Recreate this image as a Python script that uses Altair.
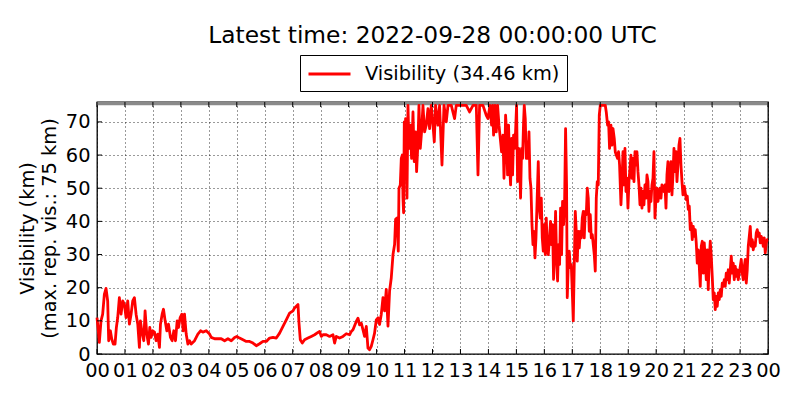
import altair as alt
import pandas as pd

TITLE = "Latest time: 2022-09-28 00:00:00 UTC"
LEGEND_LABEL = "Visibility (34.46 km)"
Y_TITLE = ["Visibility (km)", "(max. rep. vis.: 75 km)"]
FONT = "DejaVu Sans"

# x tick positions (hours) and y tick values
x_ticks = list(range(0, 25))
y_ticks = [0, 10, 20, 30, 40, 50, 60, 70]
cap_band = [75, 76]   # grey band at top (max reported visibility)

# ---- series (hour of day, visibility km) ----
h_night = [0.000, 0.048, 0.084, 0.143, 0.203, 0.263, 0.323, 0.382, 0.418, 0.478,
           0.526, 0.585, 0.645, 0.693, 0.741, 0.800, 0.860, 0.920, 0.980, 1.039,
           1.099, 1.159, 1.219, 1.278, 1.338, 1.398, 1.458, 1.517, 1.553, 1.601,
           1.673, 1.720, 1.780, 1.840, 1.888, 1.935, 1.995, 2.055, 2.115, 2.174,
           2.234, 2.270, 2.330, 2.378, 2.437, 2.497, 2.557, 2.628, 2.688, 2.748,
           2.808, 2.867, 2.915, 2.975, 3.035, 3.082, 3.130, 3.190, 3.250, 3.309,
           3.369, 3.489, 3.608, 3.704, 3.787, 3.907, 4.026, 4.086, 4.205, 4.325,
           4.444, 4.564, 4.683, 4.803, 4.922]
v_night = [11, 7, 3.5, 10, 12, 18, 19.8, 16, 4, 7,
           4.6, 3, 3, 8, 11, 17, 12, 16, 15, 11,
           16, 9, 12, 16, 17, 12, 9, 2, 10, 7,
           4, 13, 6, 3, 8, 5, 7, 6.6, 4, 6,
           2, 9, 12, 13.5, 10, 7, 9, 5, 4, 7,
           4, 10, 8, 11, 12, 7, 12, 6, 3, 4,
           3, 4, 6, 7, 6.6, 7, 6, 5, 4.6, 4.6,
           4.6, 4, 4.6, 4, 5]

h_morning = [5.000, 5.100, 5.222, 5.340, 5.458, 5.579, 5.697, 5.815, 5.937, 6.055,
             6.173, 6.295, 6.413, 6.531, 6.652, 6.770, 6.888, 7.010, 7.067, 7.128,
             7.189, 7.225, 7.271, 7.343, 7.425, 7.546, 7.664, 7.783, 7.904, 7.962,
             8.022, 8.083, 8.201, 8.319, 8.441, 8.498, 8.559, 8.677, 8.798, 8.916,
             9.034, 9.095, 9.156, 9.274, 9.335, 9.392, 9.453, 9.514, 9.571, 9.632,
             9.692, 9.750, 9.810, 9.871, 9.928, 9.989]
v_morning = [5.3, 4.8, 4.3, 3.8, 3.8, 3.3, 2.5, 3.1, 3.8, 3.8,
             4.8, 5.0, 4.8, 6.3, 8.3, 10.3, 12.3, 13.0, 13.9, 14.4,
             14.9, 9.3, 4.3, 3.3, 4.3, 4.8, 5.3, 5.8, 6.5, 6.8,
             5.3, 5.8, 5.8, 5.3, 5.8, 3.3, 5.3, 4.8, 5.3, 6.1,
             5.8, 6.8, 7.3, 9.8, 10.8, 8.8, 9.3, 7.3, 5.3, 8.3,
             1.8, 1.3, 2.3, 4.3, 6.3, 10.3]

h_midday = [10.050, 10.107, 10.168, 10.229, 10.286, 10.347, 10.408, 10.465, 10.526, 10.587,
            10.644, 10.680, 10.730, 10.776, 10.801, 10.848, 10.884, 10.919, 10.944, 10.966,
            10.991, 11.016, 11.037, 11.087, 11.123, 11.159, 11.205, 11.252, 11.302, 11.348,
            11.395, 11.431, 11.481, 11.516, 11.563, 11.609, 11.659, 11.717, 11.777, 11.838,
            11.896, 11.956, 12.017, 12.064, 12.110, 12.196, 12.253, 12.339, 12.411, 12.493,
            12.554, 12.672, 12.790, 12.850, 12.968, 13.208, 13.326, 13.448, 13.566, 13.627,
            13.684, 13.805, 13.923, 13.984]
v_midday = [10.9, 8.9, 12, 17, 13, 19.5, 8.4, 19, 23, 30,
            33, 40.6, 41, 31, 50, 51, 59, 60, 47, 42.6,
            70, 59, 71, 47, 75, 62, 69, 59, 73, 58,
            67, 55, 64, 75, 62, 67, 75, 67, 69, 74,
            68, 75, 69, 64, 75, 69, 75, 57, 75, 70,
            75, 75, 71, 75, 75, 75, 73, 75, 75, 54,
            75, 75, 72, 71]

h_afternoon = [14.056, 14.113, 14.149, 14.185, 14.235, 14.281, 14.328, 14.378, 14.424, 14.471,
               14.521, 14.557, 14.592, 14.614, 14.650, 14.685, 14.721, 14.757, 14.793, 14.828,
               14.864, 14.900, 14.936, 14.971, 15.007, 15.043, 15.079, 15.114, 15.150, 15.186,
               15.222, 15.258, 15.282, 15.318, 15.354, 15.390, 15.425, 15.451, 15.486, 15.522,
               15.558, 15.594, 15.629, 15.665, 15.701, 15.737, 15.783, 15.819, 15.855, 15.890,
               15.926, 15.962, 15.998, 16.034, 16.069, 16.105, 16.141, 16.177, 16.223, 16.259,
               16.295, 16.330, 16.366, 16.402, 16.438, 16.474, 16.509, 16.545, 16.581, 16.617,
               16.652, 16.688, 16.724, 16.760, 16.795, 16.820, 16.856, 16.892, 16.928, 16.964,
               16.999, 17.035, 17.071, 17.107, 17.142, 17.178, 17.214, 17.250, 17.285, 17.321,
               17.357, 17.393, 17.428, 17.464, 17.500, 17.536, 17.572, 17.607, 17.643, 17.679,
               17.715, 17.750, 17.786, 17.822, 17.858, 17.893, 17.929, 17.965, 18.001]
v_afternoon = [75, 69, 75, 66, 75, 67, 75, 69, 65, 61,
               66, 53, 62, 72, 67, 54, 69, 57, 51, 65,
               54, 66, 62, 67, 75, 52, 62, 59, 47, 62,
               59, 70, 75, 71, 59, 64, 59, 67, 53, 50,
               39, 33, 37, 29, 35, 45, 58, 44, 41, 47,
               35, 31, 39, 30, 41, 32, 30, 34, 40, 33,
               39, 22.5, 31, 43, 29, 22, 33, 27, 44, 30,
               46, 39, 45, 68, 51, 17, 27, 31, 26, 27,
               19, 10, 27, 43, 37, 28, 37, 32, 37, 35,
               41, 43, 35, 43, 42, 50, 47, 37, 42, 35,
               36, 33, 30, 25, 47, 52, 51, 72, 75]

h_evening = [18.062, 18.119, 18.180, 18.215, 18.262, 18.298, 18.333, 18.383, 18.419, 18.455,
             18.501, 18.537, 18.573, 18.620, 18.655, 18.691, 18.741, 18.777, 18.813, 18.848,
             18.884, 18.920, 18.956, 18.991, 19.027, 19.063, 19.099, 19.134, 19.170, 19.206,
             19.242, 19.278, 19.313, 19.349, 19.385, 19.421, 19.456, 19.492, 19.528, 19.564,
             19.599, 19.635, 19.671, 19.707, 19.742, 19.778, 19.814, 19.850, 19.886, 19.921,
             19.957, 19.993, 20.029, 20.064, 20.100, 20.136, 20.172, 20.207, 20.243, 20.279,
             20.315, 20.351, 20.386, 20.422, 20.458, 20.494, 20.529, 20.565, 20.601, 20.637,
             20.672, 20.708, 20.744, 20.780, 20.815, 20.851, 20.887, 20.923, 20.959]
v_evening = [75, 75, 75, 73, 69, 70, 62, 69, 63, 68,
             65, 61, 60, 59, 61, 57, 45, 52, 61, 51,
             62, 49, 53, 44, 52, 56, 60, 53, 59, 52,
             61, 57, 61, 55, 51, 45, 50, 44, 49, 45,
             51, 47, 54, 52, 43, 49, 46, 51, 53, 61,
             41, 47, 50, 46, 48, 50, 47, 51, 50, 49,
             51, 44, 54, 58, 49, 52, 58, 48, 54, 62,
             55, 61, 52, 57, 63, 65, 57, 52, 48]

h_night2 = [21.005, 21.041, 21.077, 21.112, 21.148, 21.184, 21.220, 21.255, 21.291, 21.327,
            21.363, 21.398, 21.434, 21.470, 21.506, 21.542, 21.577, 21.613, 21.649, 21.685,
            21.720, 21.756, 21.792, 21.828, 21.863, 21.899, 21.935, 21.971, 22.006, 22.042,
            22.078, 22.114, 22.149, 22.185, 22.221, 22.257, 22.292, 22.328, 22.364, 22.400,
            22.436, 22.471, 22.507, 22.543, 22.579, 22.614, 22.650, 22.686, 22.722, 22.757,
            22.793, 22.829, 22.865, 22.900, 22.936, 22.972, 23.008, 23.044, 23.079, 23.115,
            23.151, 23.187, 23.222, 23.258, 23.294, 23.330, 23.365, 23.401, 23.437, 23.473,
            23.508, 23.544, 23.580, 23.616, 23.651, 23.687, 23.723, 23.759, 23.794, 23.830,
            23.866, 23.902, 23.938, 23.973, 24.000]
v_night2 = [50.6, 48.6, 46.6, 47.6, 43.6, 44.6, 37.5, 39.5, 34.5, 38.5,
            35.5, 37.5, 33.5, 27.4, 31.4, 26.4, 20.4, 32.5, 34, 24.4,
            33.5, 28.5, 22.4, 31.4, 19.4, 28.5, 34, 29.5, 23.4, 16.4,
            18.4, 13.4, 17.4, 14.4, 18.4, 16.4, 19.4, 17.4, 21.4, 20.4,
            22.4, 20.4, 24.4, 22.4, 25.4, 21.4, 25.4, 29.5, 24.4, 27.4,
            22.4, 26.4, 23.4, 25.4, 22.4, 24.4, 26.4, 28.5, 24.4, 22.4,
            26.4, 28.5, 21.4, 25.4, 32.5, 35.5, 38.5, 32.5, 34.5, 31.4,
            33.5, 32.5, 36.5, 37.5, 35.5, 36.5, 33.5, 35.5, 34.5, 32.5,
            35, 30.5, 33.5, 34.5, 34.46]

hours = h_night + h_morning + h_midday + h_afternoon + h_evening + h_night2
vis = v_night + v_morning + v_midday + v_afternoon + v_evening + v_night2
df = pd.DataFrame({"hour": hours, "vis": vis})
df["series"] = LEGEND_LABEL

W, H = 671, 252
TICK = 5

xscale = alt.Scale(domain=[0, 24], nice=False, zero=False)
yscale = alt.Scale(domain=[0, 76], nice=False, zero=True)

x_axis = alt.Axis(
    values=x_ticks,
    labelExpr="(datum.value % 24 < 10 ? '0' : '') + (datum.value % 24)",
    title=None, grid=True, ticks=False, domain=False,
    labelFlush=False, labelOverlap=False, labelPadding=7,
    labelFont=FONT, labelFontSize=19.4, labelColor="black",
    gridColor="black", gridDash=[1, 3], gridWidth=0.8, gridOpacity=1,
)
y_axis = alt.Axis(
    values=y_ticks, title=Y_TITLE, grid=True, ticks=False, domain=False,
    labelPadding=7, titlePadding=6, titleLineHeight=22,
    labelFont=FONT, labelFontSize=19.4, labelColor="black",
    titleFont=FONT, titleFontSize=19.4, titleFontWeight="normal", titleColor="black",
    labelOverlap=False,
    gridColor="black", gridDash=[1, 3], gridWidth=0.8, gridOpacity=1,
)


def X(field):
    return alt.X(field, scale=xscale, axis=x_axis)


def Y(field):
    return alt.Y(field, scale=yscale, axis=y_axis)


band = alt.Chart(pd.DataFrame({"x0": [x_ticks[0]], "x1": [x_ticks[-1]],
                               "y0": [cap_band[0]], "y1": [cap_band[1]]})
                 ).mark_rect(color="#8a8a8a").encode(
    x=X("x0:Q"), x2="x1:Q", y=Y("y0:Q"), y2="y1:Q",
)

line = alt.Chart(df).mark_line(strokeWidth=2.8, strokeJoin="round").encode(
    x=X("hour:Q"),
    y=Y("vis:Q"),
    color=alt.Color(
        "series:N",
        scale=alt.Scale(domain=[LEGEND_LABEL], range=["#ff0000"]),
        legend=alt.Legend(
            title=None, orient="none", legendX=203, legendY=-47,
            symbolType="M-1,0H3", symbolSize=441, symbolStrokeWidth=2.8,
            labelFont=FONT, labelFontSize=19.4, labelColor="black",
            labelOffset=34, labelLimit=400, padding=7,
            strokeColor="black", fillColor="white",
        ),
    ),
)

xt = pd.DataFrame({"t": x_ticks})
yt = pd.DataFrame({"t": y_ticks})
tick_style = dict(color="black", strokeWidth=1)
bottom_ticks = alt.Chart(xt).mark_rule(**tick_style).encode(
    x=X("t:Q"), y=alt.value(H), y2=alt.value(H - TICK))
top_ticks = alt.Chart(xt).mark_rule(**tick_style).encode(
    x=X("t:Q"), y=alt.value(0), y2=alt.value(TICK))
left_ticks = alt.Chart(yt).mark_rule(**tick_style).encode(
    y=Y("t:Q"), x=alt.value(0), x2=alt.value(TICK))
right_ticks = alt.Chart(yt).mark_rule(**tick_style).encode(
    y=Y("t:Q"), x=alt.value(W), x2=alt.value(W - TICK))

chart = alt.layer(band, line, bottom_ticks, top_ticks, left_ticks, right_ticks).properties(
    width=W, height=H,
    background="white",
    title=alt.TitleParams(TITLE, font=FONT, fontSize=23.3, fontWeight="normal",
                          color="black", anchor="middle", offset=6),
    autosize=alt.AutoSizeParams(type="none"),
    padding={"left": 89, "top": 94, "right": 21, "bottom": 40},
).configure_view(
    stroke="black", strokeWidth=1.3
)

chart.save("out.html", embed_options={"renderer": "svg", "actions": False})
